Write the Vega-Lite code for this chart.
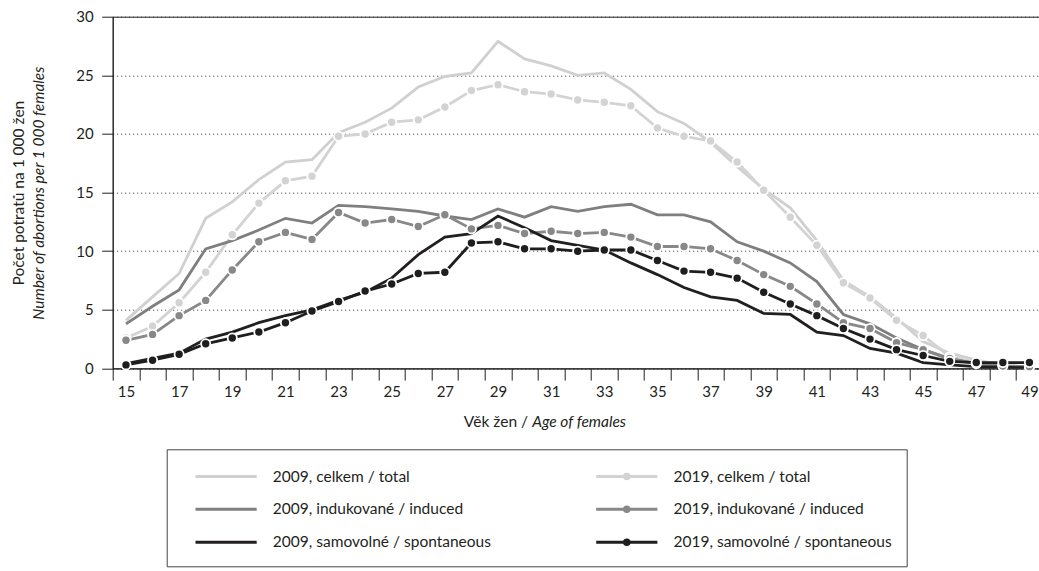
{
  "$schema": "https://vega.github.io/schema/vega-lite/v6.json",
  "width": 926.3,
  "height": 351.7,
  "autosize": "none",
  "padding": {"left": 112.7, "top": 16.7, "right": 0, "bottom": 202.6},
  "background": "white",
  "config": {
    "font": "Lato",
    "view": {"stroke": "#231f20", "strokeWidth": 1},
    "axis": {"labelFont": "Lato", "titleFont": "Lato", "labelColor": "#231f20", "titleColor": "#231f20", "titleFontWeight": "normal", "labelFontSize": 15, "titleFontSize": 15.5}
  },
  "data": {"values": [
    {"age":15,"series":"t09","value":4.1},{"age":16,"series":"t09","value":6.1},{"age":17,"series":"t09","value":8.1},{"age":18,"series":"t09","value":12.8},{"age":19,"series":"t09","value":14.2},{"age":20,"series":"t09","value":16.1},{"age":21,"series":"t09","value":17.6},{"age":22,"series":"t09","value":17.8},{"age":23,"series":"t09","value":20.1},{"age":24,"series":"t09","value":21.0},{"age":25,"series":"t09","value":22.2},{"age":26,"series":"t09","value":24.0},{"age":27,"series":"t09","value":24.9},{"age":28,"series":"t09","value":25.2},{"age":29,"series":"t09","value":27.9},{"age":30,"series":"t09","value":26.4},{"age":31,"series":"t09","value":25.8},{"age":32,"series":"t09","value":25.0},{"age":33,"series":"t09","value":25.2},{"age":34,"series":"t09","value":23.8},{"age":35,"series":"t09","value":21.9},{"age":36,"series":"t09","value":20.9},{"age":37,"series":"t09","value":19.3},{"age":38,"series":"t09","value":17.2},{"age":39,"series":"t09","value":15.3},{"age":40,"series":"t09","value":13.7},{"age":41,"series":"t09","value":10.9},{"age":42,"series":"t09","value":7.5},{"age":43,"series":"t09","value":6.1},{"age":44,"series":"t09","value":4.3},{"age":45,"series":"t09","value":2.3},{"age":46,"series":"t09","value":1.3},{"age":47,"series":"t09","value":0.7},{"age":48,"series":"t09","value":0.3},{"age":49,"series":"t09","value":0.1},
    {"age":15,"series":"t19","value":2.6},{"age":16,"series":"t19","value":3.6},{"age":17,"series":"t19","value":5.6},{"age":18,"series":"t19","value":8.2},{"age":19,"series":"t19","value":11.4},{"age":20,"series":"t19","value":14.1},{"age":21,"series":"t19","value":16.0},{"age":22,"series":"t19","value":16.4},{"age":23,"series":"t19","value":19.8},{"age":24,"series":"t19","value":20.0},{"age":25,"series":"t19","value":21.0},{"age":26,"series":"t19","value":21.2},{"age":27,"series":"t19","value":22.3},{"age":28,"series":"t19","value":23.7},{"age":29,"series":"t19","value":24.2},{"age":30,"series":"t19","value":23.6},{"age":31,"series":"t19","value":23.4},{"age":32,"series":"t19","value":22.9},{"age":33,"series":"t19","value":22.7},{"age":34,"series":"t19","value":22.4},{"age":35,"series":"t19","value":20.5},{"age":36,"series":"t19","value":19.8},{"age":37,"series":"t19","value":19.4},{"age":38,"series":"t19","value":17.6},{"age":39,"series":"t19","value":15.2},{"age":40,"series":"t19","value":12.9},{"age":41,"series":"t19","value":10.5},{"age":42,"series":"t19","value":7.3},{"age":43,"series":"t19","value":6.0},{"age":44,"series":"t19","value":4.1},{"age":45,"series":"t19","value":2.8},{"age":46,"series":"t19","value":1.0},{"age":47,"series":"t19","value":0.5},{"age":48,"series":"t19","value":0.3},{"age":49,"series":"t19","value":0.1},
    {"age":15,"series":"i09","value":3.8},{"age":16,"series":"i09","value":5.3},{"age":17,"series":"i09","value":6.7},{"age":18,"series":"i09","value":10.2},{"age":19,"series":"i09","value":10.9},{"age":20,"series":"i09","value":11.8},{"age":21,"series":"i09","value":12.8},{"age":22,"series":"i09","value":12.4},{"age":23,"series":"i09","value":13.9},{"age":24,"series":"i09","value":13.8},{"age":25,"series":"i09","value":13.6},{"age":26,"series":"i09","value":13.4},{"age":27,"series":"i09","value":13.0},{"age":28,"series":"i09","value":12.7},{"age":29,"series":"i09","value":13.6},{"age":30,"series":"i09","value":12.9},{"age":31,"series":"i09","value":13.8},{"age":32,"series":"i09","value":13.4},{"age":33,"series":"i09","value":13.8},{"age":34,"series":"i09","value":14.0},{"age":35,"series":"i09","value":13.1},{"age":36,"series":"i09","value":13.1},{"age":37,"series":"i09","value":12.5},{"age":38,"series":"i09","value":10.8},{"age":39,"series":"i09","value":10.0},{"age":40,"series":"i09","value":9.0},{"age":41,"series":"i09","value":7.4},{"age":42,"series":"i09","value":4.6},{"age":43,"series":"i09","value":3.8},{"age":44,"series":"i09","value":2.6},{"age":45,"series":"i09","value":1.6},{"age":46,"series":"i09","value":0.8},{"age":47,"series":"i09","value":0.4},{"age":48,"series":"i09","value":0.2},{"age":49,"series":"i09","value":0.1},
    {"age":15,"series":"i19","value":2.4},{"age":16,"series":"i19","value":2.9},{"age":17,"series":"i19","value":4.5},{"age":18,"series":"i19","value":5.8},{"age":19,"series":"i19","value":8.4},{"age":20,"series":"i19","value":10.8},{"age":21,"series":"i19","value":11.6},{"age":22,"series":"i19","value":11.0},{"age":23,"series":"i19","value":13.3},{"age":24,"series":"i19","value":12.4},{"age":25,"series":"i19","value":12.7},{"age":26,"series":"i19","value":12.1},{"age":27,"series":"i19","value":13.1},{"age":28,"series":"i19","value":11.9},{"age":29,"series":"i19","value":12.2},{"age":30,"series":"i19","value":11.5},{"age":31,"series":"i19","value":11.7},{"age":32,"series":"i19","value":11.5},{"age":33,"series":"i19","value":11.6},{"age":34,"series":"i19","value":11.2},{"age":35,"series":"i19","value":10.4},{"age":36,"series":"i19","value":10.4},{"age":37,"series":"i19","value":10.2},{"age":38,"series":"i19","value":9.2},{"age":39,"series":"i19","value":8.0},{"age":40,"series":"i19","value":7.0},{"age":41,"series":"i19","value":5.5},{"age":42,"series":"i19","value":3.9},{"age":43,"series":"i19","value":3.4},{"age":44,"series":"i19","value":2.2},{"age":45,"series":"i19","value":1.6},{"age":46,"series":"i19","value":0.85},{"age":47,"series":"i19","value":0.4},{"age":48,"series":"i19","value":0.2},{"age":49,"series":"i19","value":0.15},
    {"age":15,"series":"s09","value":0.4},{"age":16,"series":"s09","value":0.85},{"age":17,"series":"s09","value":1.3},{"age":18,"series":"s09","value":2.5},{"age":19,"series":"s09","value":3.1},{"age":20,"series":"s09","value":3.9},{"age":21,"series":"s09","value":4.5},{"age":22,"series":"s09","value":5.0},{"age":23,"series":"s09","value":5.8},{"age":24,"series":"s09","value":6.5},{"age":25,"series":"s09","value":7.7},{"age":26,"series":"s09","value":9.7},{"age":27,"series":"s09","value":11.2},{"age":28,"series":"s09","value":11.5},{"age":29,"series":"s09","value":13.0},{"age":30,"series":"s09","value":12.0},{"age":31,"series":"s09","value":10.9},{"age":32,"series":"s09","value":10.5},{"age":33,"series":"s09","value":10.1},{"age":34,"series":"s09","value":9.0},{"age":35,"series":"s09","value":8.0},{"age":36,"series":"s09","value":6.9},{"age":37,"series":"s09","value":6.1},{"age":38,"series":"s09","value":5.8},{"age":39,"series":"s09","value":4.7},{"age":40,"series":"s09","value":4.6},{"age":41,"series":"s09","value":3.1},{"age":42,"series":"s09","value":2.8},{"age":43,"series":"s09","value":1.7},{"age":44,"series":"s09","value":1.3},{"age":45,"series":"s09","value":0.5},{"age":46,"series":"s09","value":0.3},{"age":47,"series":"s09","value":0.15},{"age":48,"series":"s09","value":0.1},{"age":49,"series":"s09","value":0.05},
    {"age":15,"series":"s19","value":0.3},{"age":16,"series":"s19","value":0.7},{"age":17,"series":"s19","value":1.2},{"age":18,"series":"s19","value":2.1},{"age":19,"series":"s19","value":2.6},{"age":20,"series":"s19","value":3.1},{"age":21,"series":"s19","value":3.9},{"age":22,"series":"s19","value":4.9},{"age":23,"series":"s19","value":5.7},{"age":24,"series":"s19","value":6.6},{"age":25,"series":"s19","value":7.2},{"age":26,"series":"s19","value":8.1},{"age":27,"series":"s19","value":8.2},{"age":28,"series":"s19","value":10.7},{"age":29,"series":"s19","value":10.8},{"age":30,"series":"s19","value":10.2},{"age":31,"series":"s19","value":10.2},{"age":32,"series":"s19","value":10.0},{"age":33,"series":"s19","value":10.1},{"age":34,"series":"s19","value":10.1},{"age":35,"series":"s19","value":9.2},{"age":36,"series":"s19","value":8.3},{"age":37,"series":"s19","value":8.2},{"age":38,"series":"s19","value":7.7},{"age":39,"series":"s19","value":6.5},{"age":40,"series":"s19","value":5.5},{"age":41,"series":"s19","value":4.5},{"age":42,"series":"s19","value":3.4},{"age":43,"series":"s19","value":2.5},{"age":44,"series":"s19","value":1.6},{"age":45,"series":"s19","value":1.1},{"age":46,"series":"s19","value":0.6},{"age":47,"series":"s19","value":0.5},{"age":48,"series":"s19","value":0.5},{"age":49,"series":"s19","value":0.5}
  ]},
  "layer": [
    {
      "mark": {"type": "line", "strokeWidth": 2.8, "clip": true},
      "encoding": {
        "x": {"field": "age", "type": "quantitative",
          "scale": {"domain": [14.5, 49.36], "nice": false, "zero": false},
          "axis": {"orient": "bottom", "values": [14.5,15.5,16.5,17.5,18.5,19.5,20.5,21.5,22.5,23.5,24.5,25.5,26.5,27.5,28.5,29.5,30.5,31.5,32.5,33.5,34.5,35.5,36.5,37.5,38.5,39.5,40.5,41.5,42.5,43.5,44.5,45.5,46.5,47.5,48.5],
            "labelExpr": "(datum.value + 0.5) % 2 == 1 ? format(datum.value + 0.5, 'd') : ''",
            "labelOffset": 13.29, "labelOverlap": false, "labelFlush": false, "labelBound": false, "labelPadding": 4,
            "tickSize": 11.7, "tickColor": "#231f20", "domainColor": "#231f20", "grid": false,
            "title": "Věk žen /", "titleX": 414.8, "titleY": 58.4, "titleAlign": "right", "titleBaseline": "alphabetic", "titleAnchor": null}},
        "y": {"field": "value", "type": "quantitative",
          "scale": {"domain": [0, 30], "nice": false},
          "axis": {"orient": "left", "values": [0,5,10,15,20,25,30], "tickSize": 11, "labelPadding": 8.5, "tickColor": "#231f20", "domainColor": "#231f20",
            "grid": true, "gridDash": [1, 3], "gridColor": "#333333", "gridWidth": 1,
            "title": "Počet potratů na 1 000 žen", "titleX": -89.7, "titleY": 175.9, "titleAngle": 270, "titleAlign": "center", "titleBaseline": "alphabetic"}},
        "stroke": {"field": "series", "type": "nominal",
          "scale": {"domain": ["t09","t19","i09","i19","s09","s19"], "range": ["#d0d0d0","#d3d3d3","#7f7f7f","#888888","#231f20","#1e1e1e"]},
          "legend": {"orient": "none", "legendX": 54, "legendY": 432.6, "columns": 2, "direction": "horizontal", "title": null,
            "strokeColor": "#444444", "padding": 15, "symbolSize": 416, "symbolStrokeWidth": 3, "symbolOffset": 32.4, "labelOffset": 34.7,
            "columnPadding": 90.7, "rowPadding": 12, "labelFont": "Lato", "labelFontSize": 15.5, "labelColor": "#231f20", "labelLimit": 500,
            "labelExpr": "datum.value == 't09' ? '2009, celkem / total' : datum.value == 't19' ? '2019, celkem / total' : datum.value == 'i09' ? '2009, indukované / induced' : datum.value == 'i19' ? '2019, indukované / induced' : datum.value == 's09' ? '2009, samovolné / spontaneous' : '2019, samovolné / spontaneous'",
            "encode": {"symbols": {"update": {
              "shape": [{"test": "indexof(datum.value, '19') >= 0", "value": "M-3,0L3,0M0.22,0A0.22,0.22,0,1,1,-0.22,0A0.22,0.22,0,1,1,0.22,0Z"}, {"value": "M-3,0L3,0"}],
              "fill": {"scale": "stroke", "field": "value"}
            }}}}}
      }
    },
    {
      "transform": [{"filter": "indexof(datum.series, '19') >= 0"}],
      "mark": {"type": "circle", "size": 85, "opacity": 1, "stroke": "white", "strokeWidth": 1.8},
      "encoding": {
        "x": {"field": "age", "type": "quantitative",
          "axis": {"orient": "bottom", "domain": false, "ticks": false, "labels": false, "grid": false,
            "title": "Age of females", "titleFontStyle": "italic", "titleX": 419, "titleY": 58.4, "titleAlign": "left", "titleBaseline": "alphabetic", "titleAnchor": null}},
        "y": {"field": "value", "type": "quantitative",
          "axis": {"orient": "left", "domain": false, "ticks": false, "labels": false, "grid": false,
            "title": "Number of abortions per 1 000 females", "titleFontStyle": "italic", "titleX": -69.7, "titleY": 175.9, "titleAngle": 270, "titleAlign": "center", "titleBaseline": "alphabetic"}},
        "fill": {"field": "series", "type": "nominal",
          "scale": {"domain": ["t19","i19","s19"], "range": ["#d3d3d3","#888888","#1e1e1e"]},
          "legend": null}
      }
    }
  ],
  "resolve": {"axis": {"x": "independent", "y": "independent"}}
}
